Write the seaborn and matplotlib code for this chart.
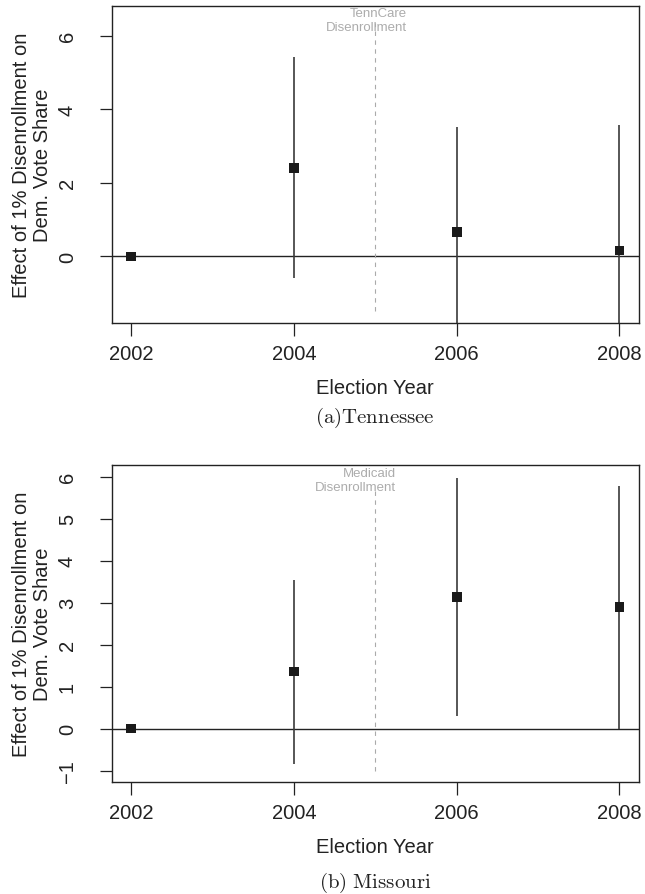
import numpy as np
import pandas as pd
import matplotlib
matplotlib.use("Agg")
import matplotlib.pyplot as plt
import seaborn as sns

# Datos
anios = [2002, 2004, 2006, 2008]

tn_efecto = [0.0, 2.41, 0.66, 0.155]
tn_inf = [0.0, -0.58, -2.4, -2.9]
tn_sup = [0.0, 5.42, 3.53, 3.57]

mo_efecto = [0.0, 1.36, 3.13, 2.90]
mo_inf = [0.0, -0.85, 0.31, 0.0]
mo_sup = [0.0, 3.54, 5.98, 5.79]

paneles = [
    {"efecto": tn_efecto, "inf": tn_inf, "sup": tn_sup,
     "ylim": (-1.82, 6.82), "yticks": [0, 2, 4, 6],
     "nota": "TennCare\nDisenrollment", "nota_x": 2005.39, "nota_y": 6.43,
     "linea": (-1.5, 6.35), "titulo": r"$\mathrm{(a)Tennessee}$"},
    {"efecto": mo_efecto, "inf": mo_inf, "sup": mo_sup,
     "ylim": (-1.28, 6.28), "yticks": [-1, 0, 1, 2, 3, 4, 5, 6],
     "nota": "Medicaid\nDisenrollment", "nota_x": 2005.25, "nota_y": 5.93,
     "linea": (-1.0, 5.65), "titulo": r"$\mathrm{(b)\ Missouri}$"},
]

sns.set_theme(style="white")
plt.rcParams["font.family"] = ["Liberation Sans", "DejaVu Sans"]
plt.rcParams["mathtext.fontset"] = "cm"

fig = plt.figure(figsize=(6.45, 8.95), dpi=100)
posiciones = [[0.1732, 0.6377, 0.8175, 0.3548], [0.1732, 0.1248, 0.8175, 0.3545]]
centros_titulo = [0.533, 0.0135]

for p, pos, cy in zip(paneles, posiciones, centros_titulo):
    ax = fig.add_axes(pos)
    df = pd.DataFrame({"anio": anios, "efecto": p["efecto"],
                       "inf": p["inf"], "sup": p["sup"]})

    ax.axhline(0, color="#222222", lw=1.0, zorder=1)
    ax.vlines(2005, p["linea"][0], p["linea"][1], colors="#aaaaaa",
              linestyles=(0, (4, 4)), lw=0.8, zorder=1)
    ax.vlines(df["anio"], df["inf"], df["sup"], colors="#3a3a3a", lw=1.2, zorder=2)
    sns.scatterplot(data=df, x="anio", y="efecto", marker="s", s=48,
                    color="#1a1a1a", edgecolor="none", ax=ax, zorder=3)

    ax.text(p["nota_x"], p["nota_y"], p["nota"], ha="right", va="center",
            multialignment="right", fontsize=9.5, color="#acacac")

    ax.set_xlim(2001.76, 2008.24)
    ax.set_ylim(*p["ylim"])
    ax.set_xticks(anios)
    ax.set_xticklabels([str(a) for a in anios], fontsize=14.5, color="#222222")
    ax.set_yticks(p["yticks"])
    ax.set_yticklabels([("\u2212" + str(-t)) if t < 0 else str(t) for t in p["yticks"]],
                       rotation=90, va="center", fontsize=14.5, color="#222222")
    ax.tick_params(axis="x", direction="out", length=9, width=0.9, pad=6,
                   color="#222222", bottom=True)
    ax.tick_params(axis="y", direction="out", length=9, width=0.9, pad=16,
                   color="#222222", left=True)
    for s in ax.spines.values():
        s.set_visible(True)
        s.set_color("#222222")
        s.set_linewidth(1.0)

    ax.set_xlabel("Election Year", fontsize=14.5, color="#222222")
    ax.xaxis.set_label_coords(0.5, -0.173)
    ax.set_ylabel("")
    ax.text(-0.151, 0.5, "Effect of 1% Disenrollment on\nDem. Vote Share",
            transform=ax.transAxes, rotation=90, ha="center", va="center",
            fontsize=14.5, linespacing=1.1, color="#222222")

    fig.text(0.5818, cy, p["titulo"], ha="center", va="center",
             fontsize=15, color="#222222")

plt.savefig("out.png", dpi=100)
